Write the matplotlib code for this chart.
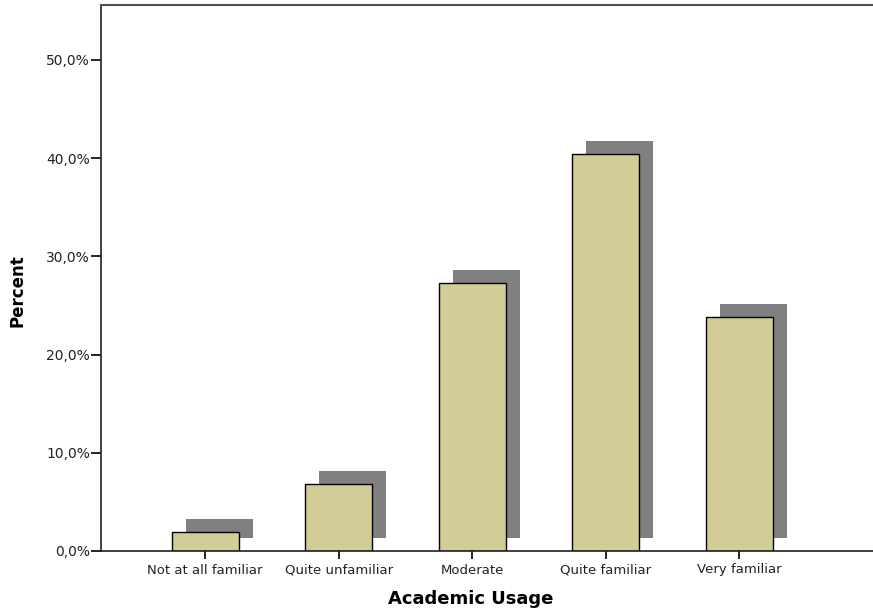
import matplotlib
matplotlib.use("Agg")
import matplotlib.pyplot as plt
import matplotlib.transforms as mtransforms
from matplotlib.ticker import FuncFormatter

categories = ["Not at all familiar", "Quite unfamiliar", "Moderate", "Quite familiar", "Very familiar"]
percents = [1.9, 6.8, 27.3, 40.4, 23.8]
y_ticks = [0, 10, 20, 30, 40, 50]

plt.rcParams["font.family"] = ["DejaVu Sans"]

fig = plt.figure(figsize=(8.73, 6.15), dpi=100)
ax = fig.add_axes([101 / 873, 1 - 551 / 615, 1 - 101 / 873, (551 - 5) / 615])

x = list(range(len(categories)))
bar_w = 0.5

# drop shadow behind each bar, shifted right and up
shadow_tr = ax.transData + mtransforms.ScaledTranslation(14 / 100, 13 / 100, fig.dpi_scale_trans)
ax.bar(x, percents, width=bar_w, color="#808080", edgecolor="none",
       transform=shadow_tr, zorder=1)
ax.bar(x, percents, width=bar_w, color="#D2CD96", edgecolor="black",
       linewidth=1.0, zorder=2)

ax.set_xlim(-0.78, 5.0)
ax.set_ylim(0, 55.6)

ax.set_yticks(y_ticks)
ax.yaxis.set_major_formatter(FuncFormatter(lambda v, p: f"{v:.1f}%".replace(".", ",")))
ax.set_xticks(x)
ax.set_xticklabels(categories)

ax.tick_params(axis="y", direction="out", length=7, width=1.2, labelsize=10, pad=1, labelcolor="#222222")
ax.tick_params(axis="x", direction="out", length=6, width=1.2, labelsize=9.5, pad=3, labelcolor="#222222")

for side in ("left", "bottom"):
    ax.spines[side].set_linewidth(1.2)
    ax.spines[side].set_color("#202020")
ax.spines["top"].set_color("#505050")
ax.spines["top"].set_linewidth(1.5)
ax.spines["right"].set_visible(False)

ax.set_ylabel("Percent", fontsize=12, fontweight="bold")
ax.set_xlabel("Academic Usage", fontsize=13, fontweight="bold")
ax.yaxis.label.set_verticalalignment("center")
ax.yaxis.set_label_coords(18 / 873, 1 - 291 / 615, transform=fig.transFigure)
ax.xaxis.set_label_coords(471 / 873, 1 - 590 / 615, transform=fig.transFigure)

fig.savefig("out.png", dpi=100)
